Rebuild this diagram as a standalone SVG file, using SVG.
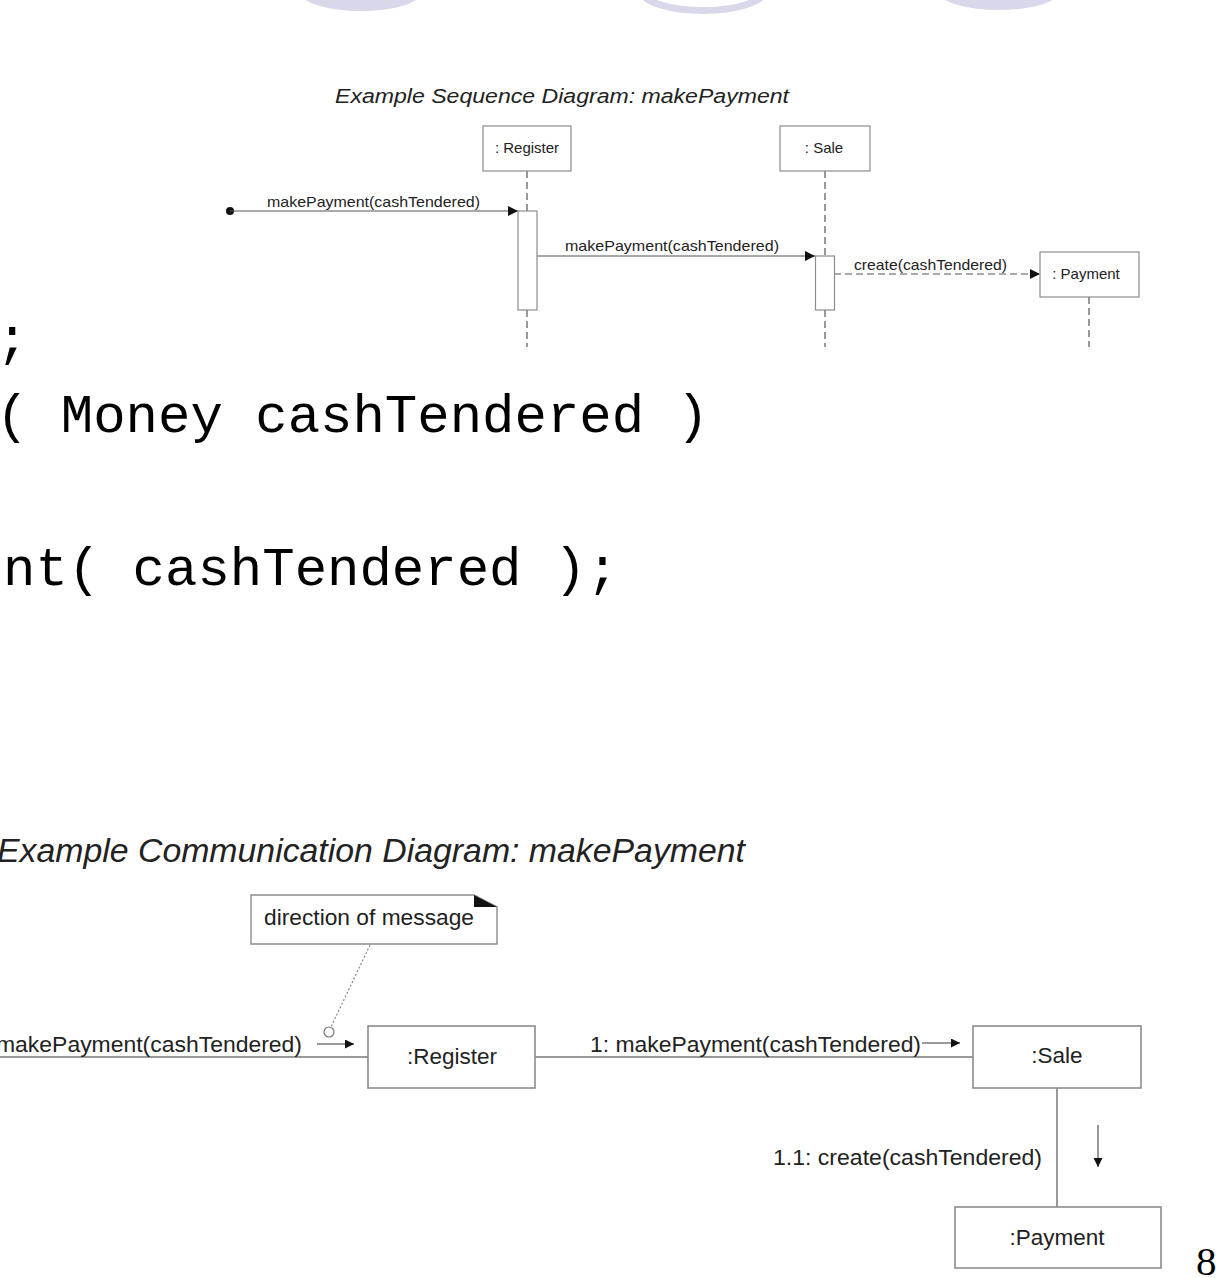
<svg xmlns="http://www.w3.org/2000/svg" width="1216" height="1278" viewBox="0 0 1216 1278">
<style>
.deco{fill:#d9d8eb}
.ring{fill:none;stroke:#d9d8eb;stroke-width:7}
.box{fill:#fff;stroke:#8c8c8c;stroke-width:1.2}
.cbox{fill:#fff;stroke:#8c8c8c;stroke-width:1.6}
.life{stroke:#555;stroke-width:1.2;stroke-dasharray:7,4;fill:none}
.msg{stroke:#555;stroke-width:1.2;fill:none}
.cl{stroke:#777;stroke-width:1.5;fill:none}
.st{font-family:"Liberation Sans",Arial,sans-serif;font-size:15px;fill:#222}
.ct{font-family:"Liberation Sans",Arial,sans-serif;font-size:22.5px;fill:#222}
.ttl{font-family:"Liberation Sans",Arial,sans-serif;font-style:italic;fill:#222}
.code{font-family:"Liberation Mono","Courier New",monospace;font-size:54px;fill:#000}
</style>
<defs>
<marker id="ah" viewBox="0 0 10 10" refX="10" refY="5" markerWidth="10" markerHeight="10" markerUnits="userSpaceOnUse" orient="auto">
<path d="M0,0 L10,5 L0,10 Z" fill="#111"/>
</marker>
<marker id="ahs" viewBox="0 0 10 10" refX="10" refY="5" markerWidth="14" markerHeight="9" markerUnits="userSpaceOnUse" orient="auto">
<path d="M0,0 L10,5 L0,10 Z" fill="#111"/>
</marker>
</defs>

<!-- decorative top shapes -->
<ellipse class="deco" cx="361" cy="-9" rx="62" ry="20"/>
<ellipse class="ring" cx="703" cy="-10" rx="62" ry="20.5"/>
<ellipse class="deco" cx="999" cy="-10" rx="62" ry="20"/>

<!-- code text -->
<text class="code" x="-4" y="355">;</text>
<text class="code" x="-4" y="432">( Money cashTendered )</text>
<text class="code" x="3" y="585">nt( cashTendered );</text>

<!-- sequence diagram -->
<text class="ttl" x="335" y="103" font-size="20.5" textLength="454" lengthAdjust="spacingAndGlyphs">Example Sequence Diagram: makePayment</text>

<g id="connectors">
<line class="life" x1="527" y1="171" x2="527" y2="211"/>
<line class="life" x1="527" y1="310" x2="527" y2="347"/>
<line class="life" x1="825" y1="171" x2="825" y2="256"/>
<line class="life" x1="825" y1="310" x2="825" y2="347"/>
<line class="life" x1="1089" y1="297" x2="1089" y2="347"/>
<circle cx="230" cy="211" r="4" fill="#111"/>
<line class="msg" x1="230" y1="211" x2="518" y2="211" marker-end="url(#ah)"/>
<line class="msg" x1="537" y1="256" x2="815" y2="256" marker-end="url(#ah)"/>
<line class="life" x1="834" y1="274" x2="1040" y2="274" marker-end="url(#ah)"/>
<text class="st" x="267" y="207" textLength="213" lengthAdjust="spacingAndGlyphs">makePayment(cashTendered)</text>
<text class="st" x="565" y="251" textLength="214" lengthAdjust="spacingAndGlyphs">makePayment(cashTendered)</text>
<text class="st" x="854" y="270" textLength="153" lengthAdjust="spacingAndGlyphs">create(cashTendered)</text>

<!-- communication links -->
<line class="cl" x1="0" y1="1057" x2="368" y2="1057"/>
<line class="cl" x1="535" y1="1057" x2="973" y2="1057"/>
<line class="cl" x1="1057" y1="1088" x2="1057" y2="1207"/>
<line x1="370" y1="945" x2="331" y2="1027" stroke="#888" stroke-width="1.2" stroke-dasharray="2,2"/>
<circle cx="329" cy="1032" r="5" fill="#fff" stroke="#777" stroke-width="1.2"/>
<line class="cl" x1="317" y1="1044" x2="354" y2="1044" marker-end="url(#ahs)"/>
<line class="cl" x1="922" y1="1043" x2="960" y2="1043" marker-end="url(#ahs)"/>
<line class="cl" x1="1098" y1="1125" x2="1098" y2="1167" marker-end="url(#ahs)"/>
<text class="ct" x="302" y="1052" text-anchor="end" textLength="306" lengthAdjust="spacingAndGlyphs">makePayment(cashTendered)</text>
<text class="ct" x="590" y="1052" textLength="331" lengthAdjust="spacingAndGlyphs">1: makePayment(cashTendered)</text>
<text class="ct" x="773" y="1165" textLength="269" lengthAdjust="spacingAndGlyphs">1.1: create(cashTendered)</text>
</g>

<g id="seq-register">
<rect class="box" x="483" y="126" width="88" height="45"/>
<text class="st" x="527" y="153" text-anchor="middle">: Register</text>
<rect class="box" x="518" y="211" width="19" height="99"/>
</g>
<g id="seq-sale">
<rect class="box" x="780" y="126" width="90" height="45"/>
<text class="st" x="824" y="153" text-anchor="middle">: Sale</text>
<rect class="box" x="815.5" y="256" width="19" height="54"/>
</g>
<g id="seq-payment">
<rect class="box" x="1040" y="252" width="99" height="45"/>
<text class="st" x="1086" y="279" text-anchor="middle">: Payment</text>
</g>

<!-- communication diagram -->
<text class="ttl" x="-3" y="862" font-size="33.5" textLength="748" lengthAdjust="spacingAndGlyphs">Example Communication Diagram: makePayment</text>

<g id="note">
<path d="M251,895 H474 L497,907 V944 H251 Z" fill="#fff" stroke="#8c8c8c" stroke-width="1.4"/>
<path d="M474,895 L497,907 L474,907 Z" fill="#111"/>
<text class="ct" x="264" y="925" font-size="22" textLength="210" lengthAdjust="spacingAndGlyphs">direction of message</text>
</g>
<g id="comm-register">
<rect class="cbox" x="368" y="1026" width="167" height="62"/>
<text class="ct" x="452" y="1064" text-anchor="middle">:Register</text>
</g>
<g id="comm-sale">
<rect class="cbox" x="973" y="1026" width="168" height="62"/>
<text class="ct" x="1057" y="1063" text-anchor="middle">:Sale</text>
</g>
<g id="comm-payment">
<rect class="cbox" x="955" y="1207" width="206" height="61"/>
<text class="ct" x="1057" y="1245" text-anchor="middle">:Payment</text>
</g>

<text x="1196" y="1275" font-family="Liberation Serif,'Times New Roman',serif" font-size="41" fill="#000">8</text>
</svg>
